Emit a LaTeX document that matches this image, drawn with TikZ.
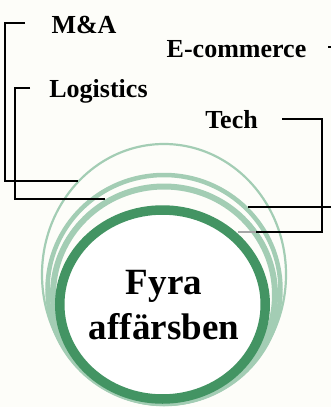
\documentclass[tikz,border=0pt]{standalone}
\usepackage{fontspec}
\setmainfont{Liberation Serif}
\usetikzlibrary{positioning}
\usetikzlibrary{shapes.geometric}
\definecolor{cream}{RGB}{253,253,249}
\definecolor{leafgreen}{RGB}{67,148,99}
\definecolor{palegreen}{RGB}{163,205,180}

\begin{document}
\begin{tikzpicture}[x=1pt,y=-1pt,
    lbl/.style={font=\fontsize{26}{30}\selectfont\bfseries, anchor=base, inner sep=0pt},
    bracket/.style={draw=black, line width=1.3pt}]
      \clip (0,0) rectangle (331,407);
      \fill[cream] (0,0) rectangle (331,407);

      \draw[palegreen, line width=2.2pt] (164,274.5)  ellipse [x radius=122,   y radius=130.5];
      \draw[palegreen, line width=4.5pt] (164,289.5)  ellipse [x radius=116.5, y radius=114.5];
      \draw[palegreen, line width=6pt]   (164,294.75) ellipse [x radius=111,   y radius=108.25];
      \node[draw=leafgreen, fill=white, ellipse, line width=9.5pt, inner sep=0pt,
            minimum width=205.5pt, minimum height=189pt] (ring) at (162.5,304.5) {};
      \node[font=\fontsize{37}{45}\selectfont\bfseries, align=center, inner sep=0pt] (core) at (164,305) {Fyra\\affärsben};

      \node[lbl] (ma)   at (84,33)    {M\&A};
      \node[lbl] (ecom) at (236.5,57) {E-commerce};
      \node[lbl] (logi) at (98.5,97)  {Logistics};
      \node[lbl] (tech) at (231.5,128) {Tech};

      \coordinate (ma-tick)   at (25,23);
      \coordinate (ma-end)    at (78,181);
      \coordinate (logi-tick) at (30,88);
      \coordinate (logi-end)  at (105,199);
      \coordinate (ecom-tick) at (328,47);
      \coordinate (ecom-end)  at (248,207);
      \coordinate (tech-tick) at (282,119);
      \coordinate (tech-end)  at (256,232);
      \coordinate (tech-tip)  at (238,232);

      \draw[bracket] (ma-tick) -- ++(-20,0) |- (ma-end);
      \draw[bracket] (logi-tick) -- ++(-15,0) |- (logi-end);
      \draw[bracket] (ecom-tick) -- ++(10,0) |- (ecom-end);
      \draw[bracket] (tech-tick) -- ++(40,0) |- (tech-end);
      \draw[bracket, draw=gray!70] (tech-end) -- (tech-tip);
    \end{tikzpicture}
\end{document}
